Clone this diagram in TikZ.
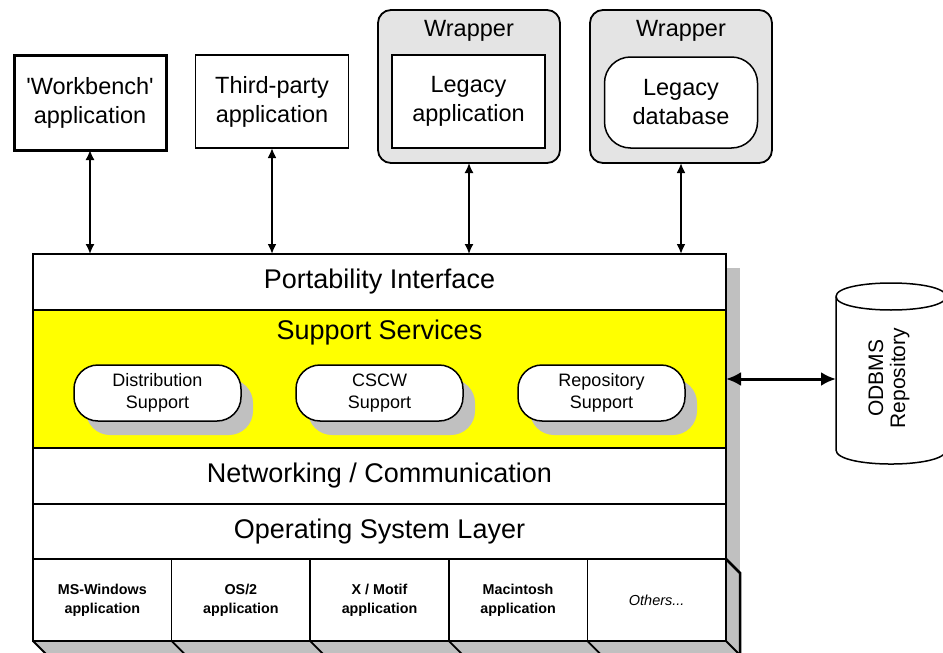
\documentclass[tikz,border=0pt]{standalone}
\usepackage{fontspec}
\setmainfont{Liberation Sans}
\usetikzlibrary{arrows.meta,shadows}
\definecolor{shadegray}{HTML}{C0C0C0}
\definecolor{wrapgray}{HTML}{E4E4E4}
\definecolor{svcyellow}{HTML}{FFFF00}
\begin{document}
\begin{tikzpicture}[x=1pt,y=-1pt,
  appbox/.style={draw, line width=1.5pt, fill=white, outer sep=0pt, inner sep=0pt,
    align=center, font=\fontsize{23.5}{29}\selectfont},
  wrapbox/.style={draw, line width=1.8pt, fill=wrapgray, rounded corners=13pt,
    outer sep=0pt, minimum width=182pt, minimum height=153pt},
  layer/.style={draw, line width=1.5pt, fill=white, outer sep=0pt, inner sep=0pt,
    minimum width=693pt, font=\fontsize{27}{30}\selectfont},
  osapp/.style={draw, line width=1.5pt, fill=white, outer sep=0pt, inner sep=0pt,
    minimum width=138.6pt, minimum height=82pt, align=center,
    font=\bfseries\fontsize{14.3}{19}\selectfont},
  pill/.style={draw, line width=1.5pt, fill=white, rounded corners=24pt,
    minimum width=167pt, minimum height=56pt, outer sep=0pt, inner sep=0pt,
    align=center, font=\fontsize{18}{22}\selectfont,
    drop shadow={shadow xshift=12pt, shadow yshift=-14pt, fill=shadegray, opacity=1}},
  dblarrow/.style={line width=1.6pt, {Latex[length=10pt,width=9pt]}-{Latex[length=10pt,width=9pt]}},
  bigarrow/.style={line width=3pt, {Latex[length=15pt,width=14pt]}-{Latex[length=15pt,width=14pt]}}
]
\useasboundingbox (0,0) rectangle (943,653);
\clip (0,0) rectangle (943,653);

% client applications on top
\node[appbox, line width=3pt, minimum width=152pt, minimum height=95pt] (wb) at (90,102.5)
  {\textquotesingle Workbench\textquotesingle\\application};
\node[appbox, minimum width=153pt, minimum height=93pt] (tp) at (272,101.5)
  {Third-party\\application};

% wrapped legacy components
\node[wrapbox] (w1) at (469,86.5) {};
\node[font=\fontsize{23.5}{29}\selectfont] (w1label) at (469,31) {Wrapper};
\node[appbox, minimum width=153pt, minimum height=93pt] (lapp) at (468.5,101.5)
  {Legacy\\application};
\node[wrapbox] (w2) at (681,86.5) {};
\node[font=\fontsize{23.5}{29}\selectfont] (w2label) at (681,31) {Wrapper};
\node[appbox, rounded corners=26pt, minimum width=153pt, minimum height=91pt] (ldb) at (681,102.5)
  {Legacy\\database};

% extruded side and bottom faces of the platform
\fill[shadegray] (726,268) rectangle (740,573);
\fill[shadegray] (33,641) -- (47,655) -- (740,655) -- (740,573) -- (726,559) -- (726,641) -- cycle;

% platform layers
\node[layer, minimum height=56pt] (port) at (379.5,282) {Portability Interface};
\node[layer, fill=svcyellow, minimum height=138pt] (support) at (379.5,379) {};
\node[font=\fontsize{27}{30}\selectfont] (suptitle) at (379.5,333) {Support Services};
\node[layer, minimum height=56pt] (net) at (379.5,476) {Networking / Communication};
\node[layer, minimum height=55pt] (osl) at (379.5,531.5) {Operating System Layer};

\node[osapp] (ms)  at (102.3,600) {MS-Windows\\application};
\node[osapp] (os2) at (240.9,600) {OS/2\\application};
\node[osapp] (xm)  at (379.5,600) {X / Motif\\application};
\node[osapp] (mac) at (518.1,600) {Macintosh\\application};
\node[osapp, font=\itshape\fontsize{14.5}{19}\selectfont] (oth) at (656.7,600) {Others...};

% support services
\node[pill] (dist) at (157.5,393) {Distribution\\Support};
\node[pill] (cscw) at (379.5,393) {CSCW\\Support};
\node[pill] (repo) at (601.5,393) {Repository\\Support};

% outline of the whole platform
\draw[line width=2.5pt] (port.north west) rectangle (oth.south east);
\draw[line width=2.5pt] (oth.north east) -- (740,573) -- (740,660);
\foreach \n in {ms,os2,xm,mac,oth}{
  \draw[line width=1.8pt] (\n.south west) -- ++(14,14);
}
\draw[line width=1.8pt] (oth.south east) -- ++(14,14);

% ODBMS repository
\node[minimum width=110pt, minimum height=154pt, inner sep=0pt, outer sep=0pt] (odbms) at (891,373) {};
\fill[white] (836,296.5) -- (836,450) .. controls (836,468.7) and (946,468.7) .. (946,450)
  -- (946,296.5) -- cycle;
\draw[line width=1.5pt] (836,296.5) .. controls (836,278.5) and (946,278.5) .. (946,296.5)
  .. controls (946,314.5) and (836,314.5) .. (836,296.5);
\draw[line width=1.5pt] (836,296.5) -- (836,450) .. controls (836,468.7) and (946,468.7) .. (946,450);
\node[rotate=90, align=center, font=\fontsize{21}{22}\selectfont] (odbmslabel) at (889,378)
  {ODBMS\\Repository};

% connectors
\draw[dblarrow] (wb.south) -- (wb.south |- port.north);
\draw[dblarrow, line width=2pt] (tp.south) -- (tp.south |- port.north);
\draw[dblarrow] (w1.south) -- (w1.south |- port.north);
\draw[dblarrow, line width=2pt] (w2.south) -- (w2.south |- port.north);
\draw[bigarrow] (support.east) -- (support.east -| odbms.west);
\end{tikzpicture}
\end{document}
